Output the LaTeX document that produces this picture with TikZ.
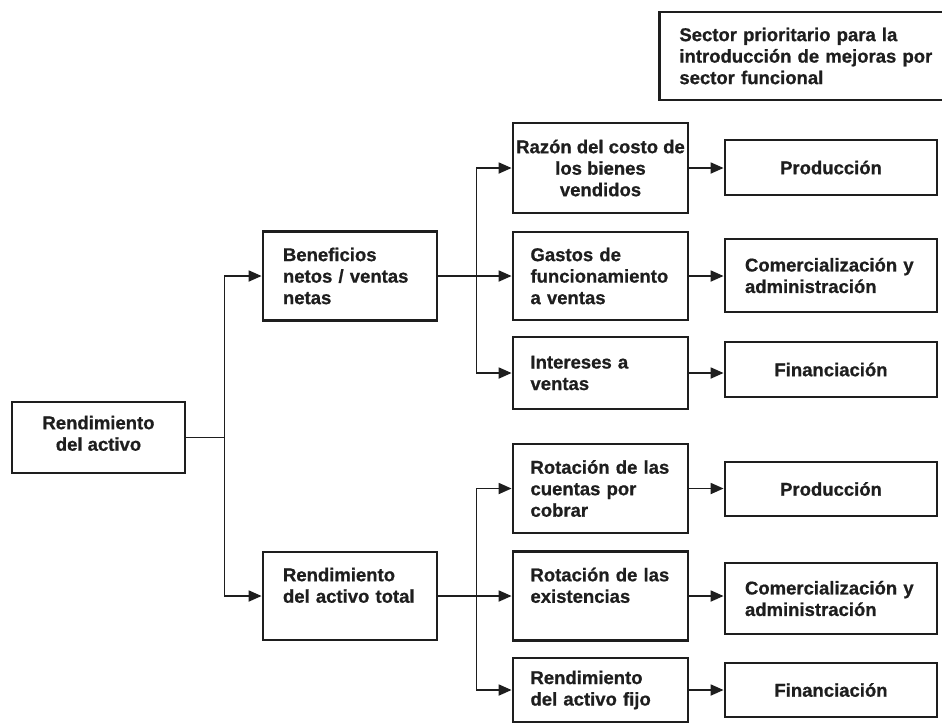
\documentclass[tikz,border=0pt]{standalone}
\usepackage{fontspec}
\setmainfont{Liberation Sans}[BoldFeatures={FakeBold=0.8}]
\usetikzlibrary{arrows.meta}
\definecolor{ink}{HTML}{1E1E1E}
\begin{document}
\begin{tikzpicture}[x=1pt,y=-1pt,
  box/.style={draw=ink, line width=2.8pt, fill=white, inner ysep=0pt,
    text=ink, font=\fontsize{18.5}{21.5}\selectfont\bfseries},
  lbox/.style={box, align=left, inner xsep=20pt},
  mbox/.style={box, align=left, inner xsep=17.5pt, text width=140pt},
  cbox/.style={box, align=center, inner xsep=2pt},
  link/.style={draw=ink, line width=1.8pt},
  arr/.style={link, -{Triangle[length=13pt,width=11pt]}}
]
\useasboundingbox (0,0) rectangle (942,724);

% heading box at the top right
\node[lbox, text width=255pt, minimum height=88pt, anchor=west] (sector) at (658,56)
  {Sector prioritario para la\\introducción de mejoras por\\sector funcional};

% root
\node[cbox, minimum width=173pt, minimum height=71pt] (ra) at (98.5,437.5)
  {Rendimiento\\del activo\\[-13pt]\mbox{}};

% second level
\node[lbox, text width=134pt, minimum height=89pt] (bn) at (350,276)
  {Beneficios\\netos / ventas\\netas};
\node[lbox, text width=134pt, minimum height=88pt] (rt) at (350,596)
  {Rendimiento\\del activo total\\~};

% ratios
\node[cbox, minimum width=175pt, minimum height=90pt] (razon) at (600.5,168)
  {Razón del costo de\\los bienes\\vendidos};
\node[mbox, minimum height=88pt] (gastos) at (600.5,276)
  {Gastos de\\funcionamiento\\a ventas};
\node[mbox, minimum height=72pt] (intereses) at (600.5,373)
  {Intereses a\\ventas};
\node[mbox, minimum height=89pt] (rotcc) at (600.5,488.5)
  {Rotación de las\\cuentas por\\cobrar};
\node[mbox, minimum height=89pt] (rotex) at (600.5,596)
  {Rotación de las\\existencias\\~};
\node[mbox, minimum height=64pt] (rfijo) at (600.5,690)
  {Rendimiento\\del activo fijo};

% functional sectors
\node[cbox, minimum width=212pt, minimum height=55pt] (prod1) at (831,167.5) {Producción};
\node[lbox, text width=172pt, minimum height=73pt] (com1) at (831,275.5)
  {Comercialización y\\administración};
\node[cbox, minimum width=212pt, minimum height=55pt] (fin1) at (831,369.5) {Financiación};
\node[cbox, minimum width=212pt, minimum height=54pt] (prod2) at (831,489) {Producción};
\node[lbox, text width=172pt, minimum height=71pt] (com2) at (831,598.5)
  {Comercialización y\\administración};
\node[cbox, minimum width=212pt, minimum height=54pt] (fin2) at (831,690) {Financiación};

% root branches
\draw[arr] (ra.east) -- ++(38,0) |- (bn.west);
\draw[arr] (ra.east) -- ++(38,0) |- (rt.west);

% upper branch
\draw[arr] (bn.east) -- (gastos.west);
\draw[arr] (bn.east) -- ++(38,0) |- (razon.west);
\draw[arr] (bn.east) -- ++(38,0) |- (intereses.west);

% lower branch
\draw[arr] (rt.east) -- (rotex.west);
\draw[arr] (rt.east) -- ++(38,0) |- (rotcc.west);
\draw[arr] (rt.east) -- ++(38,0) |- (rfijo.west);

% ratios to sectors
\draw[arr] (razon.east) -- (razon.east -| prod1.west);
\draw[arr] (gastos.east) -- (gastos.east -| com1.west);
\draw[arr] (intereses.east) -- (intereses.east -| fin1.west);
\draw[arr] (rotcc.east) -- (rotcc.east -| prod2.west);
\draw[arr] (rotex.east) -- (rotex.east -| com2.west);
\draw[arr] (rfijo.east) -- (rfijo.east -| fin2.west);
\end{tikzpicture}
\end{document}
